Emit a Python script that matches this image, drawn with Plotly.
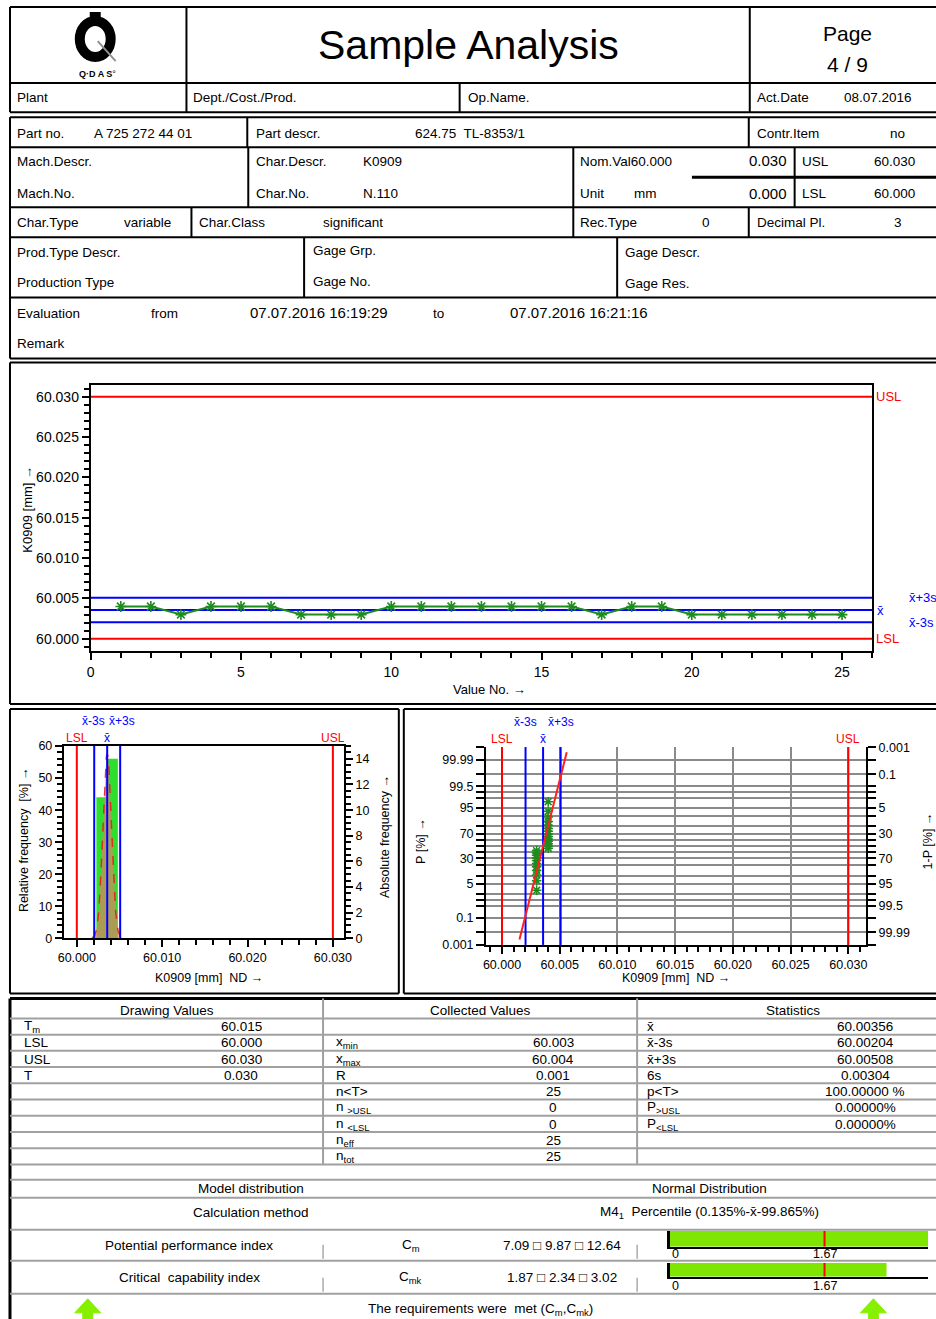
import plotly.graph_objects as go
from statistics import NormalDist

W, H = 936, 1319
FONT = "Liberation Sans, Arial, sans-serif"

# ---------------- data ----------------
value_no = list(range(1, 26))
values = [60.004, 60.004, 60.003, 60.004, 60.004, 60.004, 60.003, 60.003, 60.003,
          60.004, 60.004, 60.004, 60.004, 60.004, 60.004, 60.004, 60.003, 60.004,
          60.004, 60.003, 60.003, 60.003, 60.003, 60.003, 60.003]
USL = 60.030
LSL = 60.000
XBAR = 60.00356
XBAR_M3S = 60.00204
XBAR_P3S = 60.00508
SIX_S = 0.00304

run_yticks = [60.000, 60.005, 60.010, 60.015, 60.020, 60.025, 60.030]
run_xticks = [0, 5, 10, 15, 20, 25]

hist_centers = [60.00288, 60.00422]
hist_width = 0.00118
hist_rel = [44, 56]
hist_abs = [11, 14]
hist_curve_peak = 57.5
hist_xticks = [60.000, 60.010, 60.020, 60.030]
hist_yticks_rel = [0, 10, 20, 30, 40, 50, 60]
hist_yticks_abs = [0, 2, 4, 6, 8, 10, 12, 14]

prob_pct = [2.8, 6.7, 10.6, 14.6, 18.5, 22.4, 26.4, 30.3, 34.3, 38.2, 42.1, 46.1, 50.0,
            53.9, 57.9, 61.8, 65.7, 69.7, 73.6, 77.6, 81.5, 85.4, 89.4, 93.3, 97.2]
prob_grid = [0.001, 0.01, 0.1, 0.5, 1, 2, 5, 10, 20, 30, 40, 50, 60, 70, 80, 90,
             95, 98, 99, 99.5, 99.9, 99.99, 99.999]
prob_left_labels = {99.99: "99.99", 99.5: "99.5", 95: "95", 70: "70", 30: "30",
                    5: "5", 0.1: "0.1", 0.001: "0.001"}
prob_right_labels = {99.999: "0.001", 99.9: "0.1", 95: "5", 70: "30", 30: "70",
                     5: "95", 0.5: "99.5", 0.01: "99.99"}
prob_xticks = [60.000, 60.005, 60.010, 60.015, 60.020, 60.025, 60.030]
fit_z_ends = [-4.04, 4.04]

cm_vals = [7.09, 9.87, 12.64]
cmk_vals = [1.87, 2.34, 3.02]
cap_limit = 1.67

drawing_labels = ["T<sub>m</sub>", "LSL", "USL", "T"]
drawing_values = ["60.015", "60.000", "60.030", "0.030"]
collected_labels = ["", "x<sub>min</sub>", "x<sub>max</sub>", "R", "n&lt;T&gt;",
                    "n <sub>&gt;USL</sub>", "n <sub>&lt;LSL</sub>", "n<sub>eff</sub>", "n<sub>tot</sub>"]
collected_values = ["", "60.003", "60.004", "0.001", "25", "0", "0", "25", "25"]
stat_labels = ["x\u0304", "x\u0304-3s", "x\u0304+3s", "6s", "p&lt;T&gt;",
               "P<sub>&gt;USL</sub>", "P<sub>&lt;LSL</sub>"]
stat_values = ["60.00356", "60.00204", "60.00508", "0.00304", "100.00000 %",
               "0.00000%", "0.00000%"]

# ---------------- helpers (page px -> paper, with viewer offset/scale compensation) ----------------
OX, OY, S = 4.0, 7.0, 0.988


def X(px):
    return ((px - OX) / S) / W


def Y(py):
    return 1 - ((py - OY) / S) / H


shapes = []
annots = []
TS = 13.5  # table / field text size


def line(x0, y0, x1, y1, color="black", width=2):
    shapes.append(dict(type="line", xref="paper", yref="paper", x0=X(x0), y0=Y(y0),
                       x1=X(x1), y1=Y(y1), line=dict(color=color, width=width), layer="above"))


def box(x0, y0, x1, y1, color="black", width=2):
    line(x0, y0, x1, y0, color, width)
    line(x0, y1, x1, y1, color, width)
    line(x0, y0, x0, y1, color, width)
    if x1 < W:
        line(x1, y0, x1, y1, color, width)


def text(x, y, s, size=TS, anchor="left", color="black", angle=0, **kw):
    d = dict(x=X(x), y=Y(y), xref="paper", yref="paper", text=s, showarrow=False,
             xanchor=anchor, yanchor="middle", textangle=angle,
             font=dict(size=size, color=color, family=FONT))
    d.update(kw)
    annots.append(d)


def path(pts, color):
    p = "M " + " L ".join(f"{X(a):.5f} {Y(b):.5f}" for a, b in pts) + " Z"
    shapes.append(dict(type="path", xref="paper", yref="paper", path=p,
                       fillcolor=color, line=dict(color=color, width=1)))


# ---------------- header ----------------
box(8, 7, 945, 112)
line(185, 7, 185, 112)
line(750, 7, 750, 112)
line(8, 83, 945, 83)
line(459, 83, 459, 112)
text(468, 45, "Sample Analysis", size=41, anchor="center")
text(848, 33, "Page", size=21, anchor="center")
text(848, 64, "4 / 9", size=21, anchor="center")
# logo
shapes.append(dict(type="circle", xref="paper", yref="paper", x0=X(78), x1=X(109),
                   y0=Y(57), y1=Y(21), line=dict(color="black", width=10)))
shapes.append(dict(type="rect", xref="paper", yref="paper", x0=X(88), x1=X(99),
                   y0=Y(20), y1=Y(12), fillcolor="black", line=dict(width=0)))
line(96, 41, 114, 61, color="#909090", width=2)
text(96, 74, "<b>Q·D A S</b>\u00b0", size=9, anchor="center")
row2 = [("Plant", 13), ("Dept./Cost./Prod.", 190), ("Op.Name.", 465), ("Act.Date", 755), ("08.07.2016", 843)]
for s, x in row2:
    text(x, 97, s)

# ---------------- fields ----------------
box(8, 117, 945, 358)
for yy in (147, 207, 237, 297):
    line(8, yy, 945, yy)
line(246, 117, 246, 147)
line(749, 117, 749, 147)
line(247, 147, 247, 207)
line(573, 147, 573, 207)
line(795, 147, 795, 207)
line(692, 177, 945, 177, width=3)
line(190, 207, 190, 237)
line(573, 207, 573, 237)
line(749, 207, 749, 237)
line(303, 237, 303, 297)
line(617, 237, 617, 297)

fields = [
    ("Part no.", 13, 133), ("A 725 272 44 01", 90, 133), ("Part descr.", 253, 133),
    ("624.75  TL-8353/1", 412, 133), ("Contr.Item", 755, 133), ("no", 889, 133),
    ("Mach.Descr.", 13, 161), ("Char.Descr.", 253, 161), ("K0909", 360, 161),
    ("Nom.Val60.000", 578, 161), ("USL", 800, 161), ("60.030", 873, 161),
    ("Mach.No.", 13, 193), ("Char.No.", 253, 193), ("N.110", 360, 193),
    ("Unit", 578, 193), ("mm", 632, 193), ("LSL", 800, 193), ("60.000", 873, 193),
    ("Char.Type", 13, 222), ("variable", 120, 222), ("Char.Class", 196, 222),
    ("significant", 320, 222), ("Rec.Type", 578, 222), ("0", 700, 222),
    ("Decimal Pl.", 755, 222), ("3", 893, 222),
    ("Prod.Type Descr.", 13, 252), ("Gage Grp.", 310, 250), ("Gage Descr.", 623, 252),
    ("Production Type", 13, 282), ("Gage No.", 310, 281), ("Gage Res.", 623, 283),
    ("Evaluation", 13, 313), ("from", 147, 313), ("to", 430, 313), ("Remark", 13, 343),
]
for s, x, y in fields:
    text(x, y, s)
text(789, 160, "0.030", size=15, anchor="right")
text(789, 193, "0.000", size=15, anchor="right")
text(247, 312, "07.07.2016 16:19:29", size=15)
text(508, 312, "07.07.2016 16:21:16", size=15)

# ---------------- frames of charts ----------------
box(8, 362, 945, 703)
box(8, 708, 398, 992)
box(403, 708, 945, 992)

traces = []

# ---------------- run chart ----------------
for v, c in [(USL, "red"), (LSL, "red"), (XBAR_P3S, "blue"), (XBAR, "blue"), (XBAR_M3S, "blue")]:
    traces.append(go.Scatter(x=[0, 26], y=[v, v], mode="lines", line=dict(color=c, width=2),
                             xaxis="x", yaxis="y", hoverinfo="skip", showlegend=False))
traces.append(go.Scatter(x=value_no, y=values, mode="lines+markers",
                         line=dict(color="#1e8c1e", width=2),
                         marker=dict(symbol="asterisk-open", size=9, color="#1e8c1e",
                                     line=dict(color="#1e8c1e", width=1.6)),
                         xaxis="x", yaxis="y", showlegend=False))
for s, v, xp, c in [("USL", USL, 875, "red"), ("LSL", LSL, 875, "red"),
                    ("x\u0304", XBAR, 876, "blue"), ("x\u0304+3s", XBAR_P3S, 908, "blue"),
                    ("x\u0304-3s", XBAR_M3S, 908, "blue")]:
    annots.append(dict(x=X(xp), xref="paper", y=v, yref="y", text=s, showarrow=False,
                       xanchor="left", yanchor="middle", font=dict(size=13, color=c, family=FONT)))
text(26, 508, "K0909 [mm] \u2192", size=13, anchor="center", angle=-90)
text(489, 689, "Value No. \u2192", size=13, anchor="center")

# ---------------- histogram ----------------
traces.append(go.Bar(x=hist_centers, y=hist_rel, width=[hist_width] * len(hist_centers),
                     marker=dict(color="#2ee02e", line=dict(width=0)),
                     xaxis="x2", yaxis="y2", showlegend=False))
traces.append(go.Scatter(x=hist_centers, y=hist_abs, mode="markers", marker=dict(opacity=0),
                         xaxis="x2", yaxis="y3", hoverinfo="skip", showlegend=False))
sig = SIX_S / 6
cx = [XBAR + sig * (k / 10.0) for k in range(-35, 36)]
cy = [hist_curve_peak * 2.718281828 ** (-0.5 * ((x - XBAR) / sig) ** 2) for x in cx]
traces.append(go.Scatter(x=cx, y=cy, mode="lines", line=dict(color="rgba(230,30,30,0.9)", width=1.5, dash="dash"),
                         fill="tozeroy", fillcolor="rgba(255,110,110,0.6)",
                         xaxis="x2", yaxis="y2", hoverinfo="skip", showlegend=False))
for v, c in [(LSL, "red"), (USL, "red"), (XBAR_M3S, "blue"), (XBAR, "blue"), (XBAR_P3S, "blue")]:
    traces.append(go.Scatter(x=[v, v], y=[0, 60], mode="lines", line=dict(color=c, width=2),
                             xaxis="x2", yaxis="y2", hoverinfo="skip", showlegend=False))
for s, v, yy, anc, c in [("LSL", LSL, 737, "center", "red"), ("USL", USL, 737, "center", "red"),
                         ("x\u0304", XBAR, 737, "center", "blue"),
                         ("x\u0304-3s", XBAR, 720, "right", "blue"),
                         ("x\u0304+3s", XBAR, 720, "left", "blue")]:
    annots.append(dict(x=v, xref="x2", y=Y(yy), yref="paper", text=s, showarrow=False,
                       xanchor=anc, yanchor="middle", font=dict(size=12, color=c, family=FONT)))
text(22, 838, "Relative frequency  [%] \u2192", size=12.5, anchor="center", angle=-90)
text(384, 835, "Absolute frequency \u2192", size=12.5, anchor="center", angle=-90)
text(208, 977, "K0909 [mm]  ND \u2192", size=12.5, anchor="center")

# ---------------- probability plot ----------------
nd = NormalDist()
ZMAX = 4.27
prob_x = sorted(values)
prob_z = [nd.inv_cdf(p / 100.0) for p in prob_pct]
grid_z = [nd.inv_cdf(p / 100.0) for p in prob_grid]
traces.append(go.Scatter(x=prob_x, y=prob_z, mode="markers",
                         marker=dict(symbol="asterisk-open", size=8, color="#1e8c1e",
                                     line=dict(color="#1e8c1e", width=1.5)),
                         xaxis="x4", yaxis="y4", showlegend=False))
traces.append(go.Scatter(x=prob_x, y=prob_z, mode="markers", marker=dict(opacity=0),
                         xaxis="x4", yaxis="y5", hoverinfo="skip", showlegend=False))
for v, c in [(LSL, "red"), (USL, "red"), (XBAR_M3S, "blue"), (XBAR, "blue"), (XBAR_P3S, "blue")]:
    traces.append(go.Scatter(x=[v, v], y=[-ZMAX, ZMAX], mode="lines", line=dict(color=c, width=2),
                             xaxis="x4", yaxis="y4", hoverinfo="skip", showlegend=False))
traces.append(go.Scatter(x=[XBAR + z * sig for z in fit_z_ends], y=fit_z_ends, mode="lines",
                         line=dict(color="#ff2020", width=2), xaxis="x4", yaxis="y4",
                         hoverinfo="skip", showlegend=False))
for s, v, yy, c in [("LSL", LSL, 738, "red"), ("USL", USL, 738, "red"),
                    ("x\u0304", XBAR, 738, "blue"), ("x\u0304-3s", XBAR_M3S, 721, "blue"),
                    ("x\u0304+3s", XBAR_P3S, 721, "blue")]:
    annots.append(dict(x=v, xref="x4", y=Y(yy), yref="paper", text=s, showarrow=False,
                       xanchor="center", yanchor="middle", font=dict(size=12, color=c, family=FONT)))
text(420, 840, "P [%] \u2192", size=12.5, anchor="center", angle=-90)
text(929, 840, "1-P [%] \u2192", size=12.5, anchor="center", angle=-90)
text(676, 977, "K0909 [mm]  ND \u2192", size=12.5, anchor="center")

# ---------------- statistics table ----------------
GR = "#a0a0a0"
line(8, 997, 945, 997, width=3)
line(8, 997, 8, 1330, width=3)
row_tops = [1017 + 16.2 * i for i in range(10)]
for yy in row_tops:
    line(8, yy, 945, yy, color=GR, width=2)
line(322, 997, 322, row_tops[-1], color=GR, width=2)
line(637, 997, 637, row_tops[-1], color=GR, width=2)
text(165, 1009, "Drawing Values", anchor="center")
text(480, 1009, "Collected Values", anchor="center")
text(793, 1009, "Statistics", anchor="center")
for i in range(9):
    yc = row_tops[i] + 8.3
    if i < len(drawing_labels):
        text(20, yc, drawing_labels[i])
        text(240, yc, drawing_values[i], anchor="center")
    if collected_labels[i]:
        text(333, yc, collected_labels[i])
        text(553, yc, collected_values[i], anchor="center")
    if i < len(stat_labels):
        text(645, yc, stat_labels[i])
        text(866, yc, stat_values[i], anchor="center")

for yy in (1178, 1196, 1228, 1259, 1292):
    line(8, yy, 945, yy, color=GR, width=2)
text(250, 1187, "Model distribution", anchor="center")
text(710, 1187, "Normal Distribution", anchor="center")
text(250, 1211, "Calculation method", anchor="center")
text(710, 1211, "M4<sub>1</sub>  Percentile (0.135%-x\u0304-99.865%)", anchor="center")
for y0 in (1243, 1276):
    line(322, y0, 322, y0 + 14, color="#808080", width=1)
    line(637, y0, 637, y0 + 14, color="#808080", width=1)
text(188, 1244, "Potential performance index", anchor="center")
text(188, 1276, "Critical  capability index", anchor="center")
text(410, 1244, "C<sub>m</sub>", anchor="center")
text(410, 1276, "C<sub>mk</sub>", anchor="center")
text(562, 1244, f"{cm_vals[0]:.2f} \u25a1 {cm_vals[1]:.2f} \u25a1 {cm_vals[2]:.2f}", anchor="center")
text(562, 1276, f"{cmk_vals[0]:.2f} \u25a1 {cmk_vals[1]:.2f} \u25a1 {cmk_vals[2]:.2f}", anchor="center")
text(480, 1308, "The requirements were  met (C<sub>m</sub>,C<sub>mk</sub>)", anchor="center")

for xa, ya, val, ylab in [("x6", "y6", cm_vals[1], 1252), ("x7", "y7", cmk_vals[1], 1284)]:
    traces.append(go.Bar(x=[val], y=[0], orientation="h", width=1, base=0,
                         marker=dict(color="#7ee600", line=dict(width=0)),
                         xaxis=xa, yaxis=ya, showlegend=False))
    traces.append(go.Scatter(x=[cap_limit, cap_limit], y=[-0.5, 0.5], mode="lines",
                             line=dict(color="red", width=2), xaxis=xa, yaxis=ya,
                             hoverinfo="skip", showlegend=False))
    for v, s, anc in [(0, "0", "left"), (cap_limit, f"{cap_limit:.2f}", "center")]:
        annots.append(dict(x=v, xref=xa, y=Y(ylab), yref="paper", text=s, showarrow=False,
                           xanchor=anc, yanchor="middle",
                           font=dict(size=12.5, color="black", family=FONT)))

for cxp in (86, 874):
    pts = [(-13, 1311), (0, 1297), (13, 1311), (5, 1311), (5, 1325), (-5, 1325), (-5, 1311)]
    path([(cxp + a, b) for a, b in pts], "#86f000")

# ---------------- layout ----------------
tickfont = dict(size=12.5, color="black", family=FONT)
base_ax = dict(showline=True, linecolor="black", linewidth=2, ticks="outside", tickwidth=2,
               tickcolor="black", ticklen=7, showgrid=False, zeroline=False, tickfont=tickfont)
right_px = OX + S * W
cap_px_per_unit = 92.8

layout = dict(
    width=W, height=H, margin=dict(l=0, r=0, t=0, b=0),
    paper_bgcolor="white", plot_bgcolor="white", showlegend=False,
    shapes=shapes, annotations=annots, barmode="overlay", font=dict(family=FONT),
    xaxis=dict(base_ax, domain=[X(89), X(872.7)], range=[0, 26], tickvals=run_xticks,
               mirror=True, anchor="y", tickfont=dict(tickfont, size=14),
               minor=dict(dtick=1, tick0=0, ticks="outside", ticklen=5, tickwidth=2, tickcolor="black")),
    yaxis=dict(base_ax, domain=[Y(650), Y(384)], range=[59.9985, 60.0315], tickvals=run_yticks,
               ticktext=[f"{v:.3f}" for v in run_yticks], mirror=True, anchor="x",
               tickfont=dict(tickfont, size=14),
               minor=dict(dtick=0.001, tick0=60.0, ticks="outside", ticklen=5, tickwidth=2, tickcolor="black")),
    xaxis2=dict(base_ax, domain=[X(62), X(343)], range=[59.99848, 60.0313], tickvals=hist_xticks,
                ticktext=[f"{v:.3f}" for v in hist_xticks], mirror=True, anchor="y2",
                minor=dict(dtick=0.002, tick0=60.0, ticks="outside", ticklen=5, tickwidth=2, tickcolor="black")),
    yaxis2=dict(base_ax, domain=[Y(937), Y(745)], range=[0, 60], tickvals=hist_yticks_rel, anchor="x2",
                minor=dict(dtick=2, tick0=0, ticks="outside", ticklen=5, tickwidth=2, tickcolor="black")),
    yaxis3=dict(base_ax, domain=[Y(937), Y(745)], range=[0, 15], tickvals=hist_yticks_abs,
                overlaying="y2", side="right", anchor="x2",
                minor=dict(dtick=0.5, tick0=0, ticks="outside", ticklen=5, tickwidth=2, tickcolor="black")),
    xaxis4=dict(base_ax, domain=[X(485.5), X(866.7)], range=[59.99862, 60.03154], tickvals=prob_xticks,
                ticktext=[f"{v:.3f}" for v in prob_xticks], anchor="y4", showgrid=True,
                gridcolor="#8a8a8a", gridwidth=2,
                minor=dict(dtick=0.001, tick0=60.0, ticks="outside", ticklen=5, tickwidth=2, tickcolor="black")),
    yaxis4=dict(base_ax, domain=[Y(943.6), Y(746)], range=[-ZMAX, ZMAX], tickvals=grid_z,
                ticktext=[prob_left_labels.get(p, "") for p in prob_grid], anchor="x4",
                showgrid=True, gridcolor="#8a8a8a", gridwidth=2, ticklen=8),
    yaxis5=dict(base_ax, domain=[Y(943.6), Y(746)], range=[-ZMAX, ZMAX], tickvals=grid_z,
                ticktext=[prob_right_labels.get(p, "") for p in prob_grid], anchor="x4",
                overlaying="y4", side="right", ticklen=8),
)
for n, (top, bot) in [(6, (1229, 1245)), (7, (1261, 1275))]:
    layout[f"xaxis{n}"] = dict(domain=[X(670), 1], range=[0, (right_px - 670) / cap_px_per_unit],
                               showticklabels=False, showline=True, linecolor="black", linewidth=2,
                               ticks="", showgrid=False, zeroline=False, anchor=f"y{n}")
    layout[f"yaxis{n}"] = dict(domain=[Y(bot), Y(top)], range=[-0.5, 0.5], showticklabels=False,
                               showline=True, linecolor="black", linewidth=3, ticks="",
                               showgrid=False, zeroline=False, anchor=f"x{n}")

fig = go.Figure(data=traces, layout=layout)
fig.write_html(
    "out.html",
    config={"displayModeBar": False},
    post_script="document.body.style.margin='0px';document.body.style.padding='0px';"
                "document.documentElement.style.margin='0px';",
)
